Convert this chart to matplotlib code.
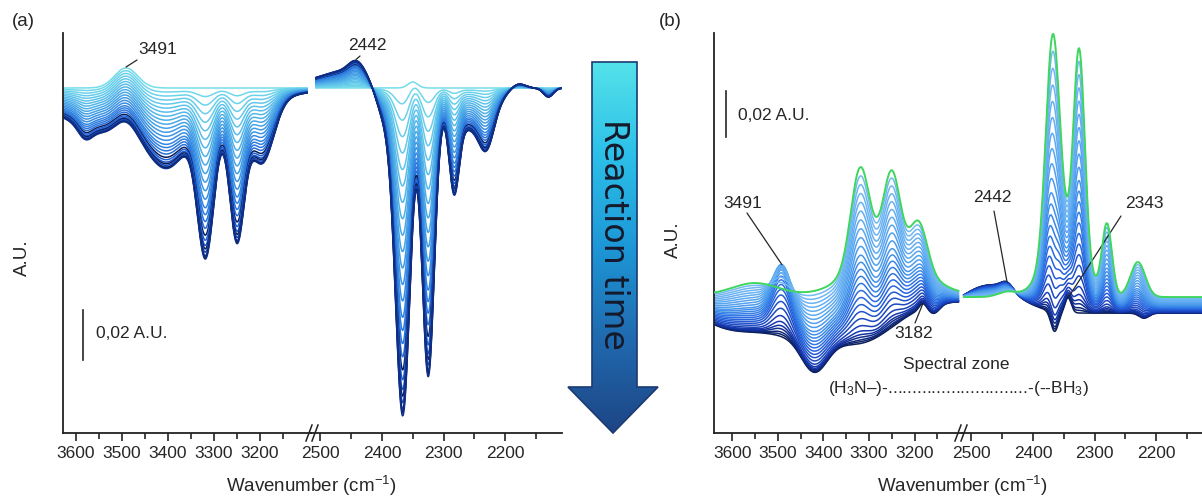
import numpy as np
import matplotlib.pyplot as plt
from matplotlib.colors import LinearSegmentedColormap
from matplotlib.patches import Polygon

plt.rcParams['font.family'] = ['Liberation Sans', 'DejaVu Sans']
plt.rcParams['mathtext.fontset'] = 'custom'
plt.rcParams['mathtext.rm'] = 'Liberation Sans'
plt.rcParams['mathtext.it'] = 'Liberation Sans:italic'

W, H = 1202, 496
TXT = '#262626'

# ---------------- panel (a): bands (A.U.) ----------------
a_span_hi = [3628, 3098]          # measured part, N-H zone
a_span_lo = [2507, 2108]          # measured part, B-H zone
# bands present in every spectrum
a_fixed_c = [3491, 2350]
a_fixed_w = [25, 8]
a_fixed_h = [0.0080, 0.0024]
# difference bands of the last spectrum
a_final_c = [3450, 3580, 3400, 3318, 3250, 3195,
             2450, 2442, 2395, 2366, 2325, 2283, 2260, 2230, 2180, 2130]
a_final_w = [160, 15, 35, 18, 16, 25,
             55, 12, 15, 12, 10, 8, 35, 12, 12, 8]
a_final_h = [-0.022, -0.0048, -0.0112, -0.052, -0.050, -0.024,
             0.0072, 0.0040, -0.016, -0.131, -0.1128, -0.030, -0.016, -0.014, 0.0026, -0.0036]
# fraction of the final change reached by each recorded spectrum
a_progress = [0.00, 0.05, 0.10, 0.15, 0.20, 0.25, 0.30, 0.35, 0.40, 0.45, 0.50, 0.55, 0.60,
              0.65, 0.70, 0.74, 0.78, 0.82, 0.86, 0.89, 0.92, 0.94, 0.96, 0.98, 0.99, 1.00]

# ---------------- panel (b) ----------------
b_span_hi = [3640, 3104]
b_span_lo = [2512, 2126]
b_start_offset = [0.0, -0.0057]    # hi zone, lo zone
b_start_c = [3430, 3620, 3420, 3300, 3182, 3157, 2470, 2442, 2365, 2343, 2220]
b_start_w = [130, 60, 28, 60, 8, 12, 45, 10, 6, 5, 8]
b_start_h = [-0.0165, -0.0065, -0.0139, -0.0078, 0.0026, -0.0035,
             0.0122, 0.0035, -0.0087, 0.0065, -0.0022]
b_end_offset = [0.0022, 0.0013]
b_end_c = [3550, 3260, 3320, 3250, 3190, 2442, 2350, 2368, 2325, 2280, 2230]
b_end_w = [50, 70, 20, 18, 18, 15, 30, 11, 9, 8, 12]
b_end_h = [0.0052, 0.0217, 0.0404, 0.0326, 0.0187, 0.0022, 0.0261, 0.0925, 0.0896, 0.0304, 0.0152]
b_trans_c = [3491, 2365]
b_trans_w = [20, 6]
b_trans_h = [0.0196, -0.0065]
b_progress = [0.00, 0.01, 0.02, 0.035, 0.05, 0.07, 0.10, 0.14, 0.18, 0.22, 0.26, 0.30, 0.34, 0.38,
              0.42, 0.46, 0.50, 0.55, 0.60, 0.65, 0.70, 0.75, 0.80, 0.85, 0.90, 0.95, 1.00]
b_transient = [0.00, 0.04, 0.08, 0.135, 0.19, 0.26, 0.36, 0.48, 0.59, 0.69, 0.77, 0.84, 0.90, 0.94,
               0.97, 0.99, 1.00, 0.99, 0.96, 0.91, 0.84, 0.75, 0.64, 0.51, 0.36, 0.19, 0.00]


def bands(x, centre, width, height):
    y = np.zeros_like(x)
    for c, w, h in zip(centre, width, height):
        y += h * np.exp(-0.5 * ((x - c) / w) ** 2)
    return y


cmap_a = LinearSegmentedColormap.from_list(
    'a', ['#74dcea', '#5ec3ec', '#45a2e6', '#2f7fe0', '#1d58d0', '#0f2f8a'])
cmap_b = LinearSegmentedColormap.from_list(
    'b', ['#0b1d58', '#1638b0', '#2563de', '#4090eb', '#5eaaf1', '#74b9f3'])
cmap_arrow = LinearSegmentedColormap.from_list(
    'arr', ['#54e2ea', '#2cc0e8', '#1d97d6', '#2069ae', '#1d4585'])

fig = plt.figure(figsize=(W / 100, H / 100), dpi=100)


def px_axes(x0, x1, y0=33, y1=433):
    return fig.add_axes([x0 / W, 1 - y1 / H, (x1 - x0) / W, (y1 - y0) / H])


def style(ax, xlim, ylim, majors, minors, left):
    ax.set_xlim(xlim)
    ax.set_ylim(ylim)
    ax.patch.set_alpha(0)
    for s in ['top', 'right']:
        ax.spines[s].set_visible(False)
    ax.spines['left'].set_visible(left)
    for s in ['left', 'bottom']:
        ax.spines[s].set_linewidth(1.3)
        ax.spines[s].set_color('#222222')
    ax.set_yticks([])
    ax.set_xticks(majors)
    ax.set_xticks(minors, minor=True)
    ax.tick_params(axis='x', which='major', length=6, width=1.2, pad=3.5,
                   labelsize=12.5, labelcolor=TXT, color='#222222')
    ax.tick_params(axis='x', which='minor', length=4, width=1.2, color='#222222')


hi_major = [3600, 3500, 3400, 3300, 3200]
hi_minor = [3550, 3450, 3350, 3250, 3150]
lo_major = [2500, 2400, 2300, 2200]
lo_minor = [2450, 2350, 2250, 2150]

# ================= panel (a) =================
ylim_a = (-0.138, 0.022)
ax_a1 = px_axes(63, 311)
ax_a2 = px_axes(311, 562)
style(ax_a1, (3628, 3089), ylim_a, hi_major, hi_minor, True)
style(ax_a2, (2515, 2108), ylim_a, lo_major, lo_minor, False)

na = len(a_progress)
a_curves = {}
for ax, span, key in [(ax_a1, a_span_hi, 'hi'), (ax_a2, a_span_lo, 'lo')]:
    wn = np.linspace(span[0], span[1], 700)
    fixed = bands(wn, a_fixed_c, a_fixed_w, a_fixed_h)
    final = bands(wn, a_final_c, a_final_w, a_final_h)
    a_curves[key] = (wn, fixed, final)
    for i, p in enumerate(a_progress):
        col = cmap_a(i / (na - 1))
        if i >= na - 8 and (na - 1 - i) % 3 == 1:
            col = '#0b1d55'
        ax.plot(wn, fixed + p * final, color=col, lw=1.1, zorder=2 + i * 0.01)

# ================= panel (b) =================
ylim_b = (-0.0578, 0.1161)
ax_b1 = px_axes(714, 962)
ax_b2 = px_axes(962, 1202)
style(ax_b1, (3640, 3096), ylim_b, hi_major, hi_minor, True)
style(ax_b2, (2515, 2126), ylim_b, lo_major, lo_minor, False)

nb = len(b_progress)
b_curves = {}
for k, (ax, span) in enumerate([(ax_b1, b_span_hi), (ax_b2, b_span_lo)]):
    wn = np.linspace(span[0], span[1], 700)
    start = b_start_offset[k] + bands(wn, b_start_c, b_start_w, b_start_h)
    end = b_end_offset[k] + bands(wn, b_end_c, b_end_w, b_end_h)
    trans = bands(wn, b_trans_c, b_trans_w, b_trans_h)
    b_curves[k] = (wn, start, end, trans)
    for i, (p, q) in enumerate(zip(b_progress, b_transient)):
        y = start + p * (end - start) + q * trans
        if i == nb - 1:
            ax.plot(wn, y, color='#3fd65f', lw=1.4, zorder=5)
        else:
            ax.plot(wn, y, color=cmap_b(i / (nb - 2)), lw=1.1, zorder=2 + i * 0.01)

# ================= texts =================
def ftext(x, y, s, **kw):
    kw.setdefault('fontsize', 12.5)
    kw.setdefault('color', TXT)
    kw.setdefault('ha', 'center')
    kw.setdefault('va', 'center')
    fig.text(x / W, 1 - y / H, s, **kw)


def leader(ax, xy, start):
    ax.annotate('', xy=xy, xycoords='data', xytext=(start[0], H - start[1]),
                textcoords='figure pixels', annotation_clip=False,
                arrowprops=dict(arrowstyle='-', lw=0.9, color=TXT, shrinkA=0, shrinkB=0))


ftext(23, 22, '(a)', fontsize=13.5)
ftext(670, 22, '(b)', fontsize=13.5)
ftext(22, 258, 'A.U.', rotation=90, fontsize=13.5)
ftext(673, 240, 'A.U.', rotation=90, fontsize=13.5)
ftext(311, 486, 'Wavenumber (cm$^{\\mathregular{-1}}$)', fontsize=13.5)
ftext(962, 486, 'Wavenumber (cm$^{\\mathregular{-1}}$)', fontsize=13.5)

# break marks on the wavenumber axis
for xb in [309, 315, 958, 964]:
    fig.add_artist(plt.Line2D([(xb - 3) / W, (xb + 3) / W], [1 - 441 / H, 1 - 425 / H],
                              color='#222222', lw=1.1))

# annotations (a)
wn, fixed, final = a_curves['hi']
ftext(158, 49, '3491')
leader(ax_a1, (3491, np.interp(3491, wn[::-1], fixed[::-1]) + 0.0004), (137, 60))
wn, fixed, final = a_curves['lo']
ftext(367, 45, '2442')
leader(ax_a2, (2442, np.interp(2442, wn[::-1], (fixed + final)[::-1]) + 0.0004), (360, 56))
ax_a1.plot([3585, 3585], [-0.0888, -0.1088], color=TXT, lw=1.2)
ftext(96, 333, '0,02 A.U.', ha='left')

# annotations (b)
ax_b1.plot([3613, 3613], [0.0909, 0.0709], color=TXT, lw=1.2)
ftext(738, 116, '0,02 A.U.', ha='left')
wn, start, end, trans = b_curves[0]
top3491 = max(np.interp(3491, wn[::-1], (start + p * (end - start) + q * trans)[::-1])
              for p, q in zip(b_progress, b_transient))
ftext(743, 203, '3491')
leader(ax_b1, (3491, top3491), (747, 213))
ftext(914, 333, '3182')
leader(ax_b1, (3182, np.interp(3182, wn[::-1], start[::-1])), (915, 323))
wn, start, end, trans = b_curves[1]
ftext(992, 198, '2442')
leader(ax_b2, (2442, np.interp(2442, wn[::-1], start[::-1])), (994, 211))
ftext(1144, 203, '2343')
leader(ax_b2, (2343, np.interp(2343, wn[::-1], start[::-1])), (1121, 216))
ftext(956, 364, 'Spectral zone')
ftext(958, 389, '(H$_3$N\u2013)-' + '.' * 29 + '-(--BH$_3$)')

# ================= reaction-time arrow =================
ax_ar = fig.add_axes([560 / W, 1 - 440 / H, 104 / W, 386 / H])
ax_ar.set_xlim(560, 664)
ax_ar.set_ylim(440, 54)
ax_ar.axis('off')
shape = Polygon([(592, 62), (637, 62), (637, 387), (658, 387), (613, 433),
                 (568, 387), (592, 387)], closed=True, fc='none', ec='#1d3a70', lw=1.2, zorder=3)
ax_ar.add_patch(shape)
grad = np.linspace(0, 1, 256).reshape(-1, 1)
im = ax_ar.imshow(grad, cmap=cmap_arrow, extent=(566, 660, 433, 62), aspect='auto', zorder=1)
im.set_clip_path(shape)
ax_ar.text(614, 234, 'Reaction time', rotation=-90, ha='center', va='center',
           fontsize=24, family='DejaVu Sans', color='#15192b', zorder=4)

fig.savefig('out.png', dpi=100)
